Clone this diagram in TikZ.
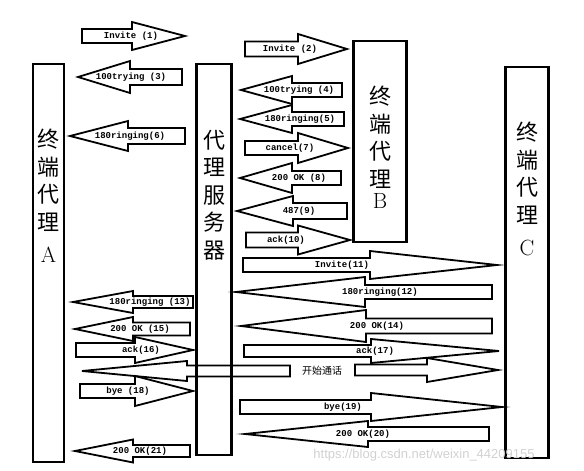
\documentclass[tikz,border=0pt]{standalone}
\usepackage{fontspec}
\newfontfamily\cjk{Noto Sans CJK SC}
\newfontfamily\msgfont{Liberation Mono}
\newfontfamily\wmfont{Liberation Sans}

\begin{document}
\begin{tikzpicture}[x=1pt, y=-1pt,
  agent/.style={draw=black, line width=2.6pt, inner sep=0pt},
  agentname/.style={font=\fontsize{22}{27.5}\selectfont\cjk, align=center, inner sep=0pt, anchor=north},
  msg/.style={draw=black, line width=1.8pt, line join=miter},
  msglabel/.style={font=\fontsize{9}{10}\selectfont\msgfont\bfseries, inner sep=0pt}]
\useasboundingbox (0,0) rectangle (584,471);
% the four parties
\node[agent, minimum width=31pt, minimum height=398pt] (uaA) at (48.5,263) {};
\node[agent, minimum width=35.5pt, minimum height=391pt] (proxy) at (214,259.5) {};
\node[agent, minimum width=52.5pt, minimum height=201pt] (uaB) at (380,141.5) {};
\node[agent, minimum width=42.5pt, minimum height=391pt] (uaC) at (527,262.5) {};
\node[agentname] (uaAname) at (48.5,129) {终\\端\\代\\理\\[5pt]{\rmfamily A}};
\node[agentname] (proxyname) at (214.5,130) {代\\理\\服\\务\\器};
\node[agentname] (uaBname) at (380,86) {终\\端\\代\\理\\[-6pt]{\rmfamily B}};
\node[agentname] (uaCname) at (527,122) {终\\端\\代\\理\\[5pt]{\rmfamily C}};
% messages: name/tail/head base/tip/y/body half/head half/label x/text
\foreach \n/\t/\b/\p/\y/\w/\h/\lx/\txt in {
  m1/82/132/185/36/7/14/131/{Invite (1)},
  m2/245/298/347/49/7.5/15/290/{Invite (2)},
  m3/182/130/78/77/8/16/131/{100trying (3)},
  m4/342/292/241/90/7/14/299/{100trying (4)},
  m5/344/292/240/119/7/14/300/{180ringing(5)},
  m6/185/128/70/136/8/15/130/{180ringing(6)},
  m7/245/298/348/148/7/15/290/{cancel(7)},
  m8/341/292/240/178/7/15/299/{200 OK (8)},
  m9/347/293/237/211/8/15/299/{487(9)},
  m10/246/298/350/240/7.5/14.5/286/{ack(10)},
  m11/243/370/497/265/7/14/342/{Invite(11)},
  m12/492/365/236/292/7/15/380/{180ringing(12)},
  m13/193/133/73/302/6/11/150/{180ringing (13)},
  m14/492/366/241/326/7.5/16/377/{200 OK(14)},
  m15/190/133/75/329/6.5/12/140/{200 OK (15)},
  m16/76/135/193/350/7/13/141/{ack(16)},
  m17/244/371/499/351/6/12/375/{ack(17)},
  t1/290/187/82/371/5.5/10/186/{},
  t2/355/427/498/370/5.5/12/426/{},
  m18/80/135/193/391/7/15/128/{bye (18)},
  m19/240/371/502/407/7/14/343/{bye(19)},
  m20/489/368/245/434/7/13/363/{200 OK(20)},
  m21/190/133/75/451/6/11.5/140/{200 OK(21)}}
{
  \draw[msg] (\t,\y-\w) -- (\b,\y-\w) -- (\b,\y-\h) -- (\p,\y) -- (\b,\y+\h) -- (\b,\y+\w) -- (\t,\y+\w) -- cycle;
  \node[msglabel] (\n) at (\lx,\y) {\txt};
}
\node[font=\fontsize{10}{11}\selectfont\cjk, inner sep=0pt] (talk) at (322,371) {开始通话};
\node[font=\fontsize{13}{13}\selectfont\wmfont, text=black!18, inner sep=0pt] (wm) at (424,455) {https://blog.csdn.net/weixin\_44209155};
\end{tikzpicture}
\end{document}
